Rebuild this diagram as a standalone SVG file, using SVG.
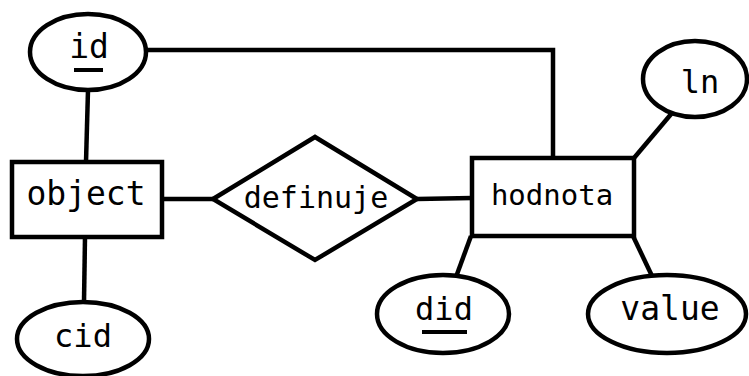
<svg xmlns="http://www.w3.org/2000/svg" width="749" height="376" viewBox="0 0 749 376">
  <style>
    .shape { fill: #ffffff; stroke: #000000; stroke-width: 4.5; }
    .link { fill: none; stroke: #000000; stroke-width: 4.5; }
    .key { stroke: #000000; stroke-width: 4; }
    .label { font-family: "DejaVu Sans Mono", "Liberation Mono", monospace; fill: #000000; text-anchor: middle; }
  </style>
  <rect width="749" height="376" fill="#ffffff"/>

  <!-- connectors -->
  <g id="connectors">
    <polyline class="link" points="147,50 553,50 553,158"/>
    <line class="link" x1="88" y1="90" x2="86" y2="162"/>
    <line class="link" x1="85" y1="237" x2="84" y2="302"/>
    <line class="link" x1="162" y1="199" x2="213" y2="199"/>
    <line class="link" x1="417" y1="199" x2="472" y2="198"/>
    <line class="link" x1="634" y1="158" x2="672" y2="113"/>
    <line class="link" x1="471" y1="236" x2="456" y2="277"/>
    <line class="link" x1="633" y1="236" x2="652" y2="276"/>
  </g>

  <!-- entity: object -->
  <g id="object">
    <rect class="shape" x="12" y="162" width="150" height="75"/>
    <text class="label" x="86" y="205" font-size="33">object</text>
  </g>

  <!-- relationship: definuje -->
  <g id="definuje">
    <polygon class="shape" points="213,199 315,137 417,199 315,260"/>
    <text class="label" x="316" y="208" font-size="30">definuje</text>
  </g>

  <!-- entity: hodnota -->
  <g id="hodnota">
    <rect class="shape" x="472" y="158" width="162" height="78"/>
    <text class="label" x="552" y="205" font-size="29">hodnota</text>
  </g>

  <!-- attributes -->
  <g id="attr-id">
    <ellipse class="shape" cx="88" cy="52" rx="58" ry="38"/>
    <text class="label" x="89" y="58" font-size="33">id</text>
    <line class="key" x1="74" y1="70" x2="103" y2="70"/>
  </g>

  <g id="attr-cid">
    <ellipse class="shape" cx="83" cy="339" rx="66" ry="37"/>
    <text class="label" x="83" y="347" font-size="32">cid</text>
  </g>

  <g id="attr-ln">
    <ellipse class="shape" cx="695" cy="79" rx="52" ry="38"/>
    <text class="label" x="700" y="93" font-size="32">ln</text>
  </g>

  <g id="attr-did">
    <ellipse class="shape" cx="443" cy="314" rx="66" ry="39"/>
    <text class="label" x="444" y="320" font-size="32">did</text>
    <line class="key" x1="422" y1="332" x2="467" y2="332"/>
  </g>

  <g id="attr-value">
    <ellipse class="shape" cx="667" cy="314" rx="79" ry="39"/>
    <text class="label" x="670" y="320" font-size="33">value</text>
  </g>
</svg>
